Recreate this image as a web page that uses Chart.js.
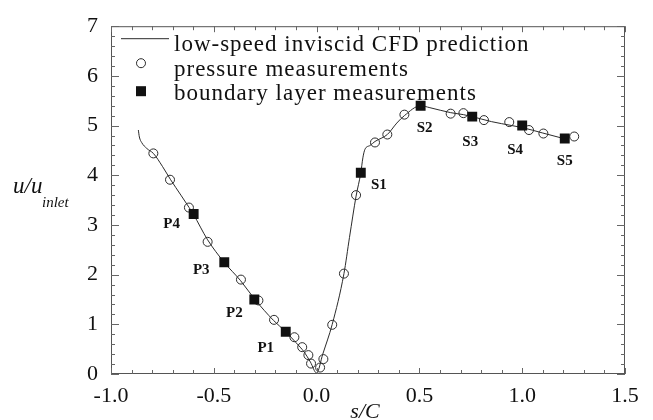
<!DOCTYPE html>
<html>
<head>
<meta charset="utf-8">
<script src="https://cdn.jsdelivr.net/npm/chart.js@4.4.1/dist/chart.umd.min.js"></script>
<style>
  html, body { margin: 0; padding: 0; background: #fff; }
  canvas { display: block; }
</style>
</head>
<body>
<canvas id="chart" width="653" height="420"></canvas>
<script>
// low-speed inviscid CFD prediction (solid line)
const cfdS = [-0.867, -0.862, -0.851, -0.826, -0.794, -0.75, -0.71, -0.66, -0.62, -0.6, -0.53, -0.45, -0.37, -0.3, -0.21, -0.15, -0.1, -0.06, -0.03, 0.0, 0.03, 0.076, 0.133, 0.16, 0.192, 0.215, 0.225, 0.235, 0.26, 0.284, 0.344, 0.39, 0.427, 0.506, 0.551, 0.652, 0.714, 0.757, 0.85, 0.95, 1.0, 1.1, 1.21];
const cfdU = [4.91, 4.77, 4.66, 4.54, 4.44, 4.18, 3.91, 3.60, 3.35, 3.22, 2.70, 2.25, 1.88, 1.50, 1.08, 0.85, 0.63, 0.44, 0.24, 0.02, 0.40, 1.00, 2.02, 2.75, 3.58, 4.05, 4.35, 4.52, 4.60, 4.68, 4.82, 5.05, 5.20, 5.40, 5.36, 5.26, 5.22, 5.18, 5.08, 5.00, 4.96, 4.85, 4.73];

// pressure measurements (open circles)
const pressureS = [-0.794, -0.713, -0.621, -0.530, -0.368, -0.283, -0.207, -0.108, -0.070, -0.040, -0.027, 0.017, 0.033, 0.076, 0.133, 0.192, 0.284, 0.344, 0.427, 0.652, 0.714, 0.814, 0.937, 1.033, 1.103, 1.253];
const pressureU = [4.44, 3.91, 3.35, 2.66, 1.90, 1.48, 1.09, 0.74, 0.54, 0.38, 0.21, 0.13, 0.30, 0.99, 2.02, 3.60, 4.66, 4.82, 5.22, 5.24, 5.25, 5.11, 5.07, 4.91, 4.84, 4.78];

// boundary layer measurements (filled squares)
const layerS = [-0.598, -0.449, -0.303, -0.150, 0.215, 0.506, 0.757, 1.0, 1.207];
const layerU = [3.22, 2.25, 1.50, 0.85, 4.05, 5.40, 5.18, 5.00, 4.74];
const layerNames = ['P4', 'P3', 'P2', 'P1', 'S1', 'S2', 'S3', 'S4', 'S5'];
// label offset from its square, px
const layerLabelDx = [-22, -23, -20, -20, 18, 4, -2, -7, 0];
const layerLabelDy = [10, 8, 14, 16, 12, 22, 25, 25, 23];

const xMin = -1.0, xMax = 1.5, xStep = 0.5;
const yMin = 0, yMax = 7, yStep = 1;

const legendNames = ['low-speed inviscid CFD prediction', 'pressure measurements', 'boundary layer measurements'];

const ink = '#2b2b2b';
const serif = '"Liberation Serif", "Times New Roman", serif';

const toXY = (xs, ys) => xs.map((x, i) => ({ x: x, y: ys[i] }));

const decorations = {
  id: 'decorations',
  afterDraw(chart) {
    const ctx = chart.ctx;
    const a = chart.chartArea;
    const xs = chart.scales.x, ys = chart.scales.y;
    ctx.save();

    // frame
    ctx.strokeStyle = '#555';
    ctx.lineWidth = 1;
    ctx.strokeRect(a.left + 0.5, a.top + 0.5, a.right - a.left - 1, a.bottom - a.top - 1);

    // inward ticks on all four sides
    ctx.strokeStyle = '#666';
    ctx.beginPath();
    for (let i = 0; i <= Math.round((xMax - xMin) / 0.1); i++) {
      const v = xMin + i * 0.1;
      const px = Math.round(xs.getPixelForValue(v)) + 0.5;
      const len = (i % 5 === 0) ? 6 : 4;
      ctx.moveTo(px, a.bottom); ctx.lineTo(px, a.bottom - len);
      ctx.moveTo(px, a.top); ctx.lineTo(px, a.top + len);
    }
    for (let i = 0; i <= Math.round((yMax - yMin) / 0.2); i++) {
      const v = yMin + i * 0.2;
      const py = Math.round(ys.getPixelForValue(v)) + 0.5;
      const len = (i % 5 === 0) ? 8 : 4;
      ctx.moveTo(a.left, py); ctx.lineTo(a.left + len, py);
      ctx.moveTo(a.right, py); ctx.lineTo(a.right - len, py);
    }
    ctx.stroke();

    // point labels P1..S5
    ctx.fillStyle = '#111';
    ctx.font = 'bold 15px ' + serif;
    ctx.textAlign = 'center';
    ctx.textBaseline = 'middle';
    layerNames.forEach((name, i) => {
      const px = xs.getPixelForValue(layerS[i]) + layerLabelDx[i];
      const py = ys.getPixelForValue(layerU[i]) + layerLabelDy[i];
      ctx.fillText(name, px, py);
    });

    // legend
    const lx = a.left + 30;
    ctx.strokeStyle = ink;
    ctx.lineWidth = 1;
    ctx.beginPath();
    ctx.moveTo(a.left + 10, a.top + 12.5);
    ctx.lineTo(a.left + 58, a.top + 12.5);
    ctx.stroke();
    ctx.beginPath();
    ctx.arc(lx, a.top + 37, 4.5, 0, Math.PI * 2);
    ctx.stroke();
    ctx.fillStyle = '#111';
    ctx.fillRect(lx - 5, a.top + 60, 10, 10);

    ctx.font = '23px ' + serif;
    ctx.textAlign = 'left';
    ctx.textBaseline = 'alphabetic';
    ctx.letterSpacing = '1px';
    ctx.fillStyle = '#111';
    const baselines = [25, 50, 74];
    legendNames.forEach((t, i) => ctx.fillText(t, a.left + 63, a.top + baselines[i]));
    ctx.letterSpacing = '0px';

    // axis titles
    ctx.font = 'italic 23px ' + serif;
    ctx.fillText('u/u', 13, 193);
    ctx.font = 'italic 15px ' + serif;
    ctx.fillText('inlet', 42, 207);
    ctx.font = 'italic 22px ' + serif;
    ctx.textAlign = 'center';
    ctx.fillText('s/C', 365, 418);

    ctx.restore();
  }
};

new Chart(document.getElementById('chart'), {
  type: 'scatter',
  data: {
    datasets: [
      {
        label: legendNames[2],
        data: toXY(layerS, layerU),
        pointStyle: 'rect',
        pointRadius: 7,
        pointBackgroundColor: '#111',
        pointBorderColor: '#111',
        pointBorderWidth: 0,
        order: 1
      },
      {
        label: legendNames[1],
        data: toXY(pressureS, pressureU),
        pointStyle: 'circle',
        pointRadius: 4.5,
        pointBackgroundColor: 'rgba(0,0,0,0)',
        pointBorderColor: ink,
        pointBorderWidth: 1,
        order: 2
      },
      {
        label: legendNames[0],
        data: toXY(cfdS, cfdU),
        showLine: true,
        borderColor: ink,
        borderWidth: 1,
        pointRadius: 0,
        cubicInterpolationMode: 'monotone',
        order: 3
      }
    ]
  },
  options: {
    responsive: false,
    animation: false,
    devicePixelRatio: 1,
    layout: { padding: { top: 21, right: 28, left: 0, bottom: 0 } },
    plugins: {
      legend: { display: false },
      tooltip: { enabled: false }
    },
    scales: {
      x: {
        type: 'linear',
        min: xMin,
        max: xMax,
        afterFit: (scale) => { scale.height = 46; },
        grid: { display: false, drawTicks: false },
        border: { display: false },
        ticks: {
          stepSize: xStep,
          padding: 9,
          color: '#111',
          font: { family: serif, size: 22 },
          callback: (v) => v.toFixed(1)
        }
      },
      y: {
        type: 'linear',
        min: yMin,
        max: yMax,
        afterFit: (scale) => { scale.width = 111; },
        grid: { display: false, drawTicks: false },
        border: { display: false },
        ticks: {
          stepSize: yStep,
          padding: 13,
          color: '#111',
          font: { family: serif, size: 22 },
          callback: (v) => String(v)
        }
      }
    }
  },
  plugins: [decorations]
});
</script>
</body>
</html>
